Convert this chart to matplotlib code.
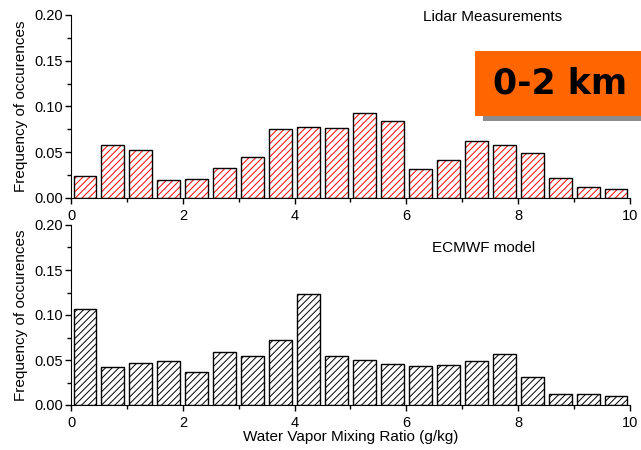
import numpy as np
import matplotlib

matplotlib.use("Agg")
import matplotlib.pyplot as plt
from matplotlib.patches import Rectangle
from matplotlib.ticker import MultipleLocator, FormatStrFormatter

plt.rcParams["font.family"] = ["Liberation Sans", "DejaVu Sans"]
plt.rcParams["hatch.linewidth"] = 0.7

# bins of 0.5 g/kg, 0..10
bin_left = np.arange(0, 10, 0.5)
lidar_freq = [0.024, 0.058, 0.052, 0.020, 0.021, 0.033, 0.045, 0.075, 0.078, 0.077,
              0.093, 0.084, 0.032, 0.042, 0.062, 0.058, 0.049, 0.022, 0.012, 0.010]
ecmwf_freq = [0.107, 0.042, 0.047, 0.049, 0.037, 0.059, 0.055, 0.072, 0.123, 0.054,
              0.050, 0.046, 0.043, 0.044, 0.049, 0.057, 0.031, 0.012, 0.012, 0.0095]

panels = [
    (lidar_freq, "red", "Lidar Measurements", (6.3, 0.198)),
    (ecmwf_freq, "black", "ECMWF model", (6.46, 0.174)),
]

fig = plt.figure(figsize=(6.41, 4.5), dpi=100)
ax_top = fig.add_axes([0.1108, 0.56, 0.872, 0.4067])
ax_bot = fig.add_axes([0.1108, 0.10, 0.872, 0.40])

centers = bin_left + 0.25
for ax, (vals, hcol, label, pos) in zip([ax_top, ax_bot], panels):
    # hatch in colour, outline in black
    ax.bar(centers, vals, width=0.41, facecolor="white", edgecolor=hcol,
           hatch="/////", linewidth=0)
    ax.bar(centers, vals, width=0.41, facecolor="none", edgecolor="black",
           linewidth=1.0)
    ax.set_xlim(0, 10)
    ax.set_ylim(0, 0.20)
    ax.spines["top"].set_visible(False)
    ax.spines["right"].set_visible(False)
    ax.xaxis.set_major_locator(MultipleLocator(2))
    ax.xaxis.set_minor_locator(MultipleLocator(1))
    ax.yaxis.set_major_locator(MultipleLocator(0.05))
    ax.yaxis.set_minor_locator(MultipleLocator(0.025))
    ax.yaxis.set_major_formatter(FormatStrFormatter("%.2f"))
    ax.tick_params(which="major", direction="out", length=4, width=1,
                   labelsize=10.5, pad=2)
    ax.tick_params(axis="x", which="major", pad=4)
    ax.tick_params(which="minor", direction="out", length=3, width=1)
    ax.set_ylabel("Frequency of occurences", fontsize=11, labelpad=4)
    ax.text(pos[0], pos[1], label, fontsize=11, ha="left", va="center")
    ax.set_facecolor("none")

ax_bot.set_xlabel("Water Vapor Mixing Ratio (g/kg)", fontsize=11, labelpad=0)

# orange "0-2 km" label with drop shadow
W, H = 641, 450
fig.patches.append(Rectangle((483 / W, 1 - 121 / H), 158 / W, 65 / H,
                             transform=fig.transFigure, facecolor="#8c8c8c",
                             edgecolor="none", zorder=5))
fig.patches.append(Rectangle((475 / W, 1 - 116 / H), 166 / W, 65 / H,
                             transform=fig.transFigure, facecolor="#ff6600",
                             edgecolor="none", zorder=6))
fig.text(560 / W, 1 - 83 / H, "0-2 km", fontsize=25, fontweight="bold",
         ha="center", va="center", color="black", zorder=7,
         family=["DejaVu Sans"])

fig.savefig("out.png", dpi=100)
